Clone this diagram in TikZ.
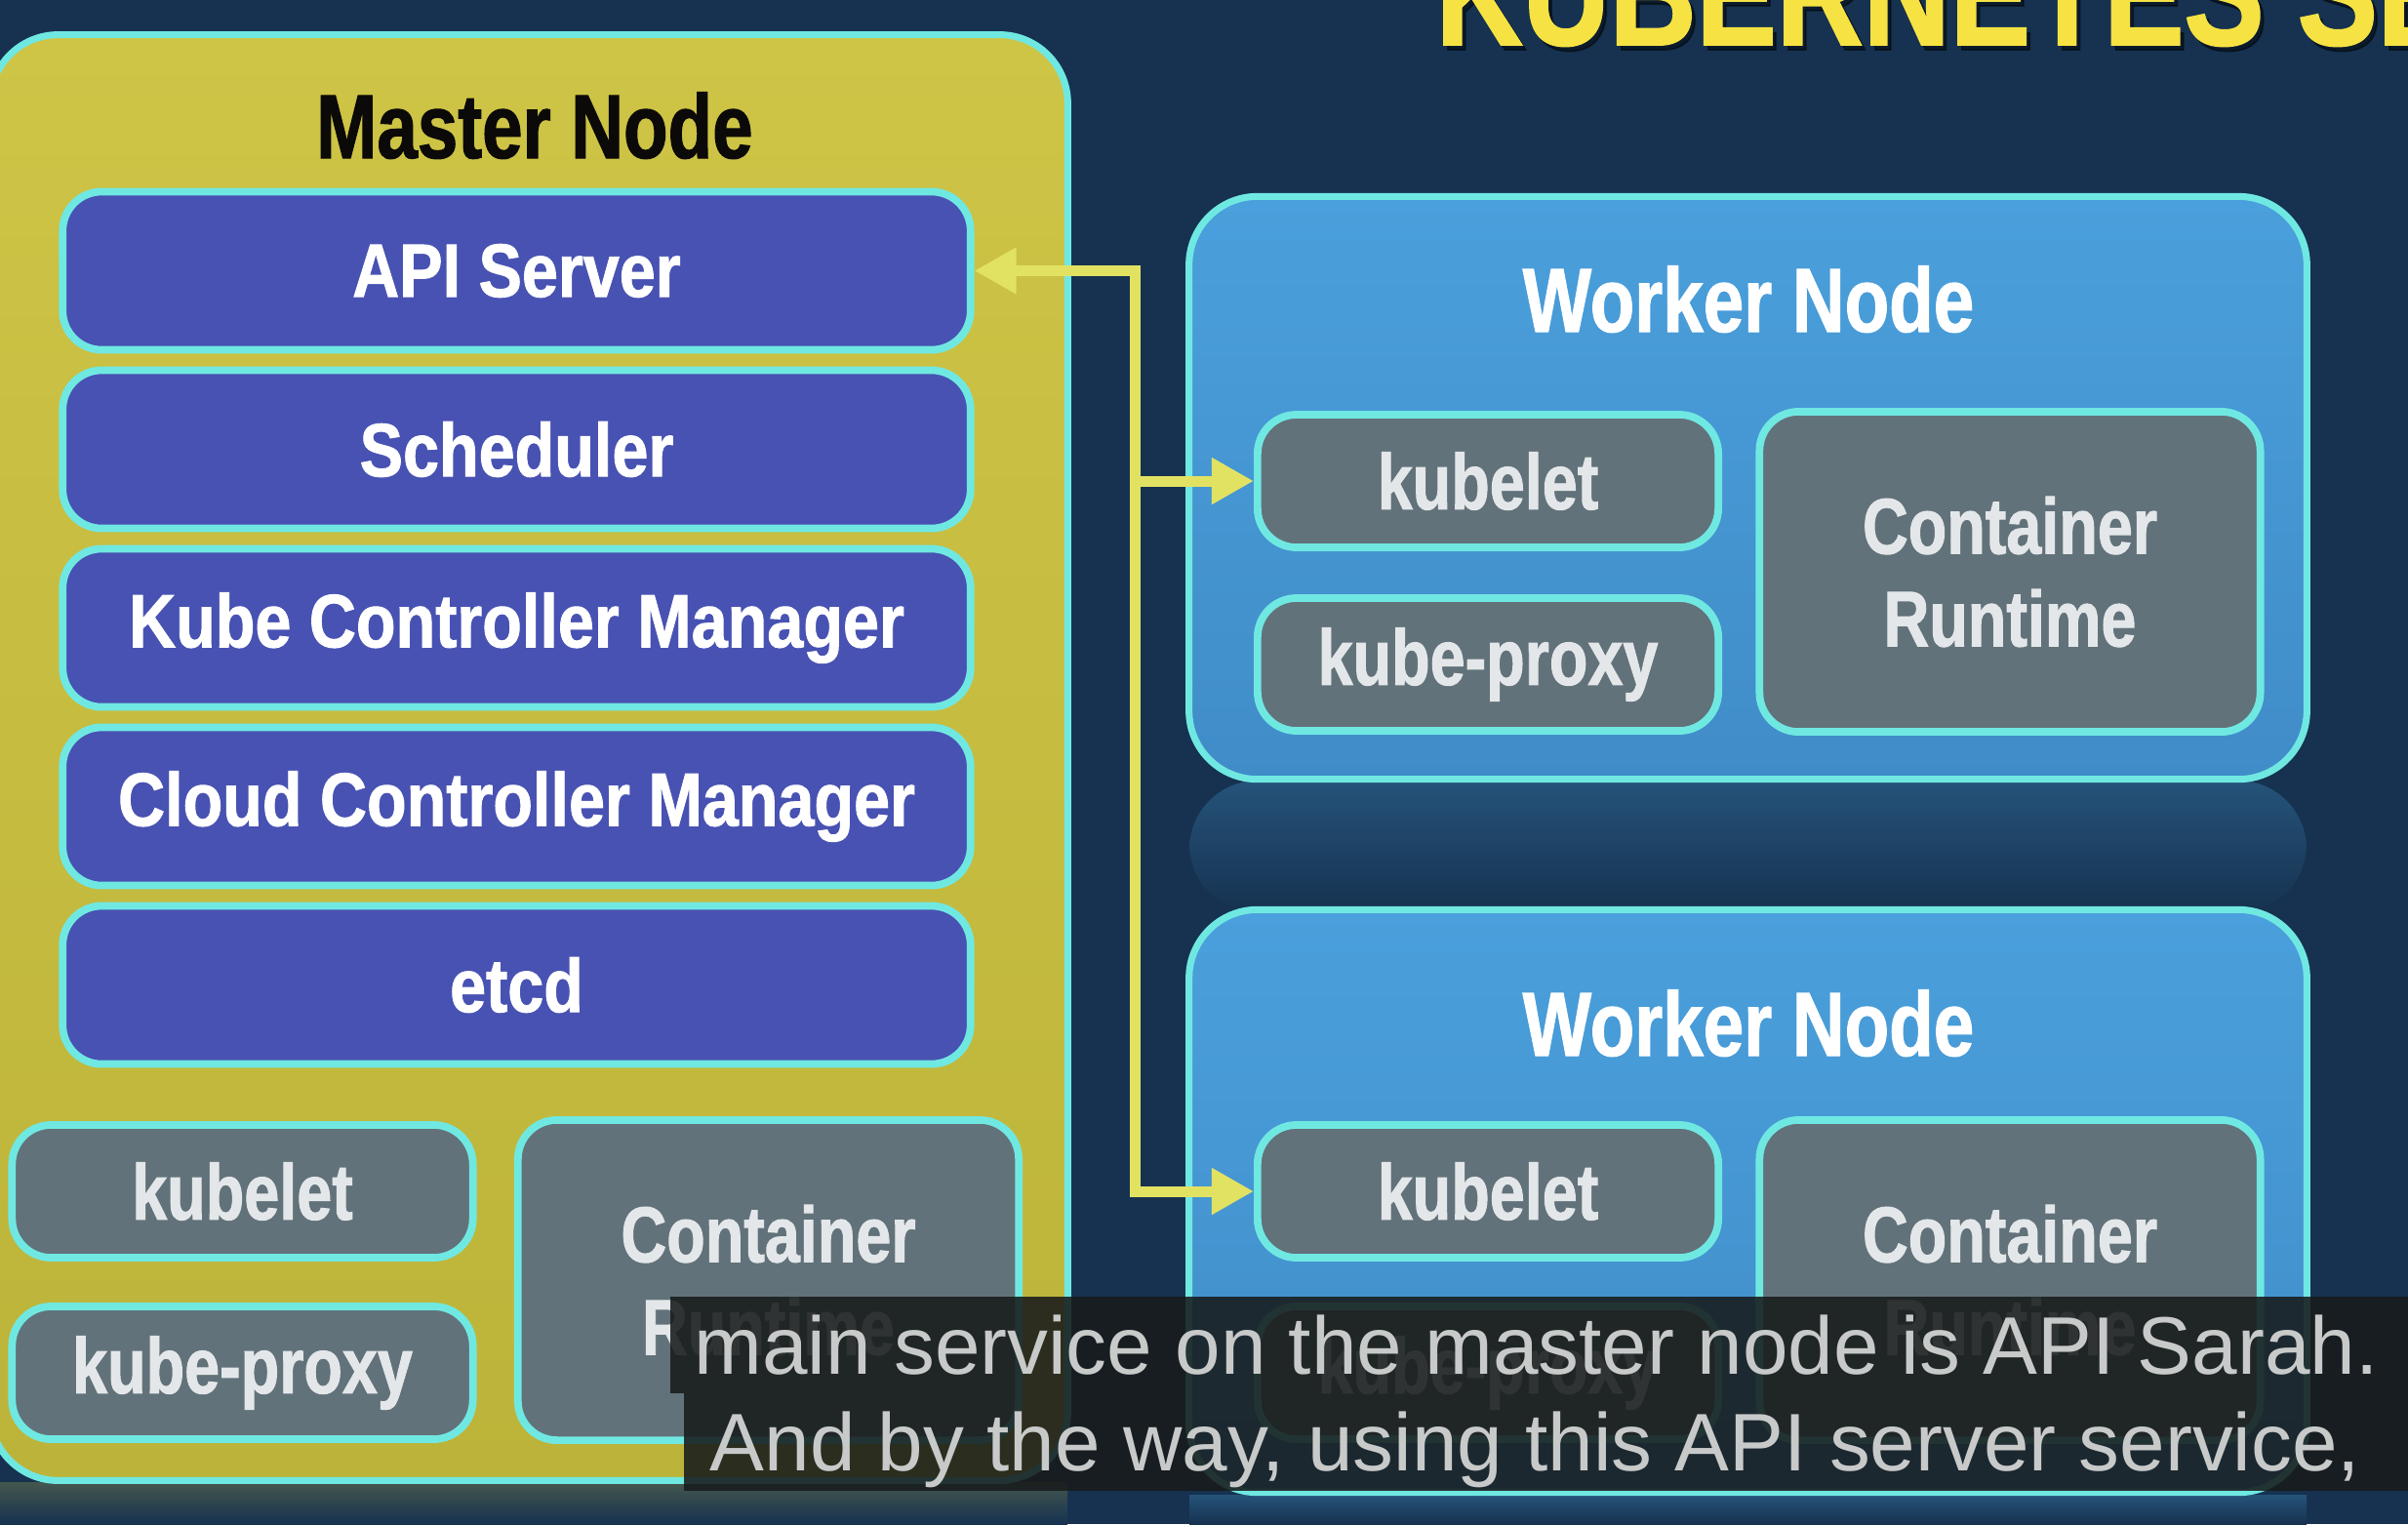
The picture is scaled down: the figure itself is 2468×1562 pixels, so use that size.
\documentclass[tikz,border=0pt]{standalone}
\usepackage{fontspec}
\usepackage{tikz}
\usetikzlibrary{arrows.meta}

\newfontfamily\boxfont[FakeStretch=0.8,BoldFeatures={FakeBold=1.2}]{Liberation Sans}
\newfontfamily\ctlfont[FakeStretch=0.86,BoldFeatures={FakeBold=1.2}]{Liberation Sans}
\newfontfamily\subfont{Liberation Sans}

\definecolor{bg}{RGB}{22,50,80}
\definecolor{edge}{RGB}{112,232,226}
\definecolor{olive}{RGB}{206,196,70}
\definecolor{olivedark}{RGB}{188,180,58}
\definecolor{indigo}{RGB}{72,82,178}
\definecolor{slate}{RGB}{98,114,122}
\definecolor{sky}{RGB}{74,160,220}
\definecolor{skydark}{RGB}{64,140,200}
\definecolor{wire}{RGB}{226,226,98}
\definecolor{gold}{RGB}{246,226,66}
\definecolor{capbg}{RGB}{24,27,27}
\definecolor{captext}{RGB}{200,202,202}
\definecolor{pale}{RGB}{228,231,233}
\definecolor{ink}{RGB}{12,10,8}

\begin{document}
\begin{tikzpicture}
	[x=0.01cm,y=-0.01cm,
	 host/.style={draw=edge,line width=2pt,rounded corners=0.7cm,inner sep=0pt},
	 master/.style={host,top color=olive,bottom color=olivedark,minimum width=11.04cm,minimum height=14.81cm},
	 worker/.style={host,top color=sky,bottom color=skydark,minimum width=11.45cm,minimum height=5.97cm},
	 ctl/.style={draw=edge,line width=2.2pt,rounded corners=0.4cm,fill=indigo,minimum width=9.3cm,minimum height=1.62cm,text=white,font=\ctlfont\bfseries\fontsize{22}{26}\selectfont},
	 part/.style={draw=edge,line width=2.2pt,rounded corners=0.4cm,fill=slate,minimum width=4.72cm,minimum height=1.36cm,text=pale,font=\boxfont\bfseries\fontsize{23}{27}\selectfont},
	 runtime/.style={part,minimum width=5.13cm,minimum height=3.28cm,align=center},
	 head/.style={anchor=base,inner sep=0pt,font=\boxfont\bfseries\fontsize{26.5}{30}\selectfont},
	 link/.style={draw=wire,line width=0.11cm},
	 tip/.style={-{Triangle[length=0.43cm,width=0.45cm]}},
	 caption/.style={anchor=base west,text=captext,inner sep=0pt,font=\subfont\fontsize{23.8}{28}\selectfont}]

	\clip (0,0) rectangle (2468,1562);
	\fill[bg] (0,0) rectangle (2468,1562);

	\path[top color=bg!70!sky,bottom color=bg,rounded corners=0.7cm] (1219,800) rectangle (2364,935);
	\path[top color=bg!75!olive,bottom color=bg] (0,1519) rectangle (1094,1562);
	\path[top color=bg!70!sky,bottom color=bg] (1219,1532) rectangle (2364,1562);

	\node[master] (mn) at (542,776.5) {};
	\node[worker] (w1) at (1791.5,500) {};
	\node[worker] (w2) at (1791.5,1231) {};

	\node[head,text=ink] (mt) at (548,162) {Master Node};
	\node[head,text=white] (wt1) at (1792,340) {Worker Node};
	\node[head,text=white] (wt2) at (1792,1082) {Worker Node};

	\node[ctl] (api) at (529.5,277.5) {API Server};
	\node[ctl] (sch) at (529.5,460.5) {Scheduler};
	\node[ctl] (kcm) at (529.5,643.5) {Kube Controller Manager};
	\node[ctl] (ccm) at (529.5,826.5) {Cloud Controller Manager};
	\node[ctl] (etcd) at (529.5,1009.5) {etcd};

	\node[part] (mk) at (248.5,1221) {kubelet};
	\node[part] (mp) at (248.5,1407) {kube-proxy};
	\node[runtime] (mc) at (787.5,1312) {Container\\Runtime};

	\node[part] (k1) at (1525,493) {kubelet};
	\node[part] (p1) at (1525,681) {kube-proxy};
	\node[runtime] (c1) at (2060,586) {Container\\Runtime};

	\node[part] (k2) at (1525,1221) {kubelet};
	\node[part] (p2) at (1525,1407) {kube-proxy};
	\node[runtime] (c2) at (2060,1312) {Container\\Runtime};

	\coordinate (j0) at (1163,277.5);
	\coordinate (j1) at (1163,493);
	\coordinate (j2) at (1163,1221);

	\draw[link,{Triangle[length=0.43cm,width=0.45cm]}-{Triangle[length=0.43cm,width=0.45cm]}] (api) -- (j0) -- (j2) -- (k2);
	\draw[link,tip] (j1) -- (k1);

	\node[anchor=base west,inner sep=0pt,text=black,opacity=0.45,font=\boxfont\bfseries\fontsize{43.8}{48}\selectfont] (ttls) at (1475,51) {KUBERNETES SE};
	\node[anchor=base west,inner sep=0pt,text=gold,font=\boxfont\bfseries\fontsize{43.8}{48}\selectfont] (ttl) at (1471,46) {KUBERNETES SE};

	\fill[capbg,opacity=0.88] (687,1329) rectangle (2468,1428);
	\fill[capbg,opacity=0.88] (701,1428) rectangle (2468,1528);
	\node[caption] (s1) at (711,1408) {main service on the master node is API Sarah.};
	\node[caption] (s2) at (727,1507) {And by the way, using this API server service,};

\end{tikzpicture}
\end{document}
